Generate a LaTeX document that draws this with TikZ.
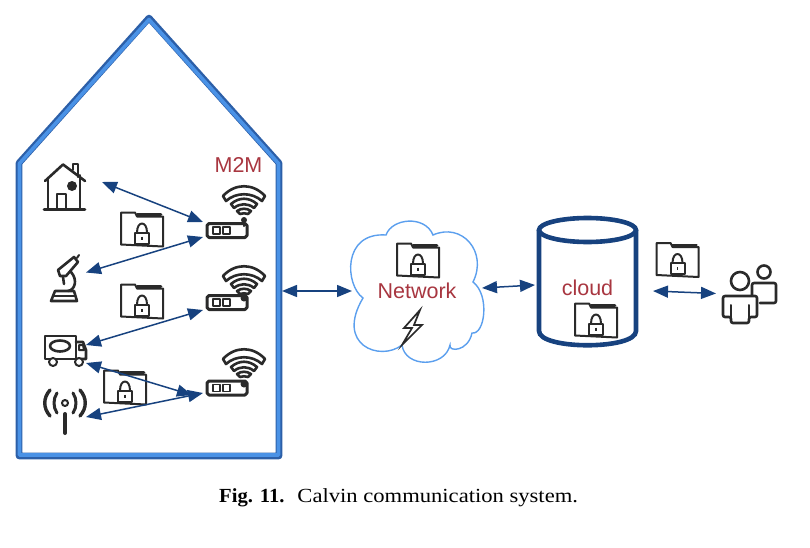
\documentclass[tikz,border=0pt]{standalone}
\usepackage{fontspec}
\setmainfont[FakeStretch=1.13]{Liberation Serif}
\newfontfamily\capbold[FakeStretch=1.03]{Liberation Serif Bold}
\newfontfamily\labelfont{Liberation Sans}
\usetikzlibrary{arrows.meta}
\definecolor{arrowblue}{HTML}{17427F}
\definecolor{wallouter}{HTML}{2C5FA8}
\definecolor{wallinner}{HTML}{4A92E6}
\definecolor{cloudline}{HTML}{5B9FEE}
\definecolor{labelred}{HTML}{A83640}
\definecolor{icon}{HTML}{2A2A2A}
\tikzset{
  x=1pt,y=-1pt,
  iconline/.style={draw=icon,line width=2pt,line join=round,line cap=round},
  thickicon/.style={draw=icon,line width=2.6pt,line join=round,line cap=round},
  link/.style={draw=arrowblue,line width=1.5pt,{Triangle[length=15pt,width=12pt]}-{Triangle[length=15pt,width=12pt]}},
  redlabel/.style={text=labelred,font=\labelfont\fontsize{21.5}{24}\selectfont,inner sep=0pt},
  folder/.pic={
    \draw[iconline] (-21,-13) -- (-21,-17) -- (-7,-17) -- (-5,-13) -- (21,-13) -- (21,17) -- (-21,15) -- cycle;
    \draw[thickicon] (-5,-15) -- (19,-15);
    \draw[iconline,fill=white] (-7,3) rectangle (7,14);
    \draw[iconline] (-5,3) .. controls (-5,-9) and (5,-9) .. (5,3);
    \draw[icon,line width=1.6pt] (0,7) -- (0,10);
  },
  routerbox/.pic={
    \draw[thickicon,line width=3pt] (-18,-7) -- (18,-7) -- (20,-5) -- (20,5) -- (18,7) -- (-18,7) -- (-20,5) -- (-20,-5) -- cycle;
    \draw[iconline,line width=1.9pt] (-14,-3.5) rectangle (-7,3.5) (-4,-3.5) rectangle (3,3.5);
  },
  wifi/.pic={
    \draw[thickicon] (-21,-5) .. controls (-9,-18) and (9,-18) .. (21,-5) -- (18,0) .. controls (8,-9) and (-8,-9) .. (-18,0) -- cycle;
    \draw[thickicon] (-13,3) .. controls (-5,-4) and (5,-4) .. (13,3) -- (10,7) .. controls (4,2) and (-4,2) .. (-10,7) -- cycle;
    \draw[thickicon] (-7,10) .. controls (-3,7) and (3,7) .. (7,10) -- (4,13) .. controls (1,12) and (-1,12) .. (-4,13) -- cycle;
  },
  wavepair/.pic={
    \draw[thickicon,line width=3pt] (-8,-10) .. controls (-12,-4) and (-12,4) .. (-8,10);
    \draw[thickicon,line width=3.4pt] (-15,-13) .. controls (-22,-5) and (-22,5) .. (-15,13);
  }
}
\begin{document}
\begin{tikzpicture}
\useasboundingbox (0,0) rectangle (810,548);

% enclosure
\draw[draw=wallouter,line width=6.6pt,line join=round] (19,456) -- (19,163) -- (149,18) -- (279,163) -- (279,456) -- cycle;
\draw[draw=wallinner,line width=3.6pt,line join=round] (19.5,455) -- (19.5,163.5) -- (149,19.5) -- (278.5,163.5) -- (278.5,455) -- cycle;
\node[redlabel] (m2m) at (238.5,164.5) {M2M};

% house
\draw[thickicon] (45,181) -- (63,164.5) -- (85,181);
\draw[iconline] (48,179) -- (48,208) (80,175) -- (80,208);
\draw[thickicon] (44,209.5) -- (85,209.5);
\draw[iconline] (57,209) -- (57,194) -- (66,194) -- (66,209);
\draw[iconline] (73,170) -- (73,164) -- (78,164) -- (78,177);
\fill[icon] (72,186) circle (5pt);

% microscope
\draw[thickicon] (51,301) -- (55,291) -- (74,291) -- (77,301) -- cycle;
\draw[iconline] (53,296) -- (75,296);
\draw[thickicon,fill=white] (58,270) -- (74,257) -- (78,262) -- (66,276) -- (60,276) -- cycle;
\draw[iconline] (77,258) -- (79,255);
\draw[thickicon] (71,272) .. controls (78,280) and (75,290) .. (68,291);
\draw[thickicon] (63,277) -- (64,284);

% truck
\draw[thickicon] (45,336) -- (76,336) -- (76,359) -- (45,359) -- cycle;
\draw[thickicon] (76,342) -- (83,342) -- (86,350) -- (86,359) -- (76,359);
\draw[thickicon] (60,346) ellipse (10pt and 5.5pt);
\draw[iconline] (79,345) -- (83,345) -- (84,350) -- (79,350) -- cycle;
\draw[iconline,fill=white] (53,362) circle (4pt);
\draw[iconline,fill=white] (79,362) circle (4pt);

% antenna
\draw[thickicon,line width=4pt] (65,414) -- (65,433);
\draw[iconline] (65,403) circle (3pt);
\pic at (65,403) {wavepair};
\pic[xscale=-1] at (65,403) {wavepair};

% routers
\pic at (227,230.5) {routerbox};
\pic at (244,201) {wifi};
\draw[iconline,line width=2.4pt] (244,220) -- (244,226);
\fill[icon] (244,220) circle (3pt);
\pic at (227,302.5) {routerbox};
\pic at (244,281) {wifi};
\fill[icon] (244,298) circle (3.5pt);
\pic at (227,388) {routerbox};
\pic at (244,364) {wifi};
\fill[icon] (244,384) circle (3.5pt);

% folders
\pic at (142,229.5) {folder};
\pic at (142,301.5) {folder};
\pic at (125,387.5) {folder};

% cloud
\draw[draw=cloudline,line width=1.4pt,fill=white]
  (363,298) .. controls (345,285) and (342,232) .. (386,235)
  .. controls (392,218) and (425,215) .. (433,235)
  .. controls (462,222) and (488,252) .. (473,282)
  .. controls (490,295) and (485,335) .. (472,333)
  .. controls (468,352) and (448,352) .. (450,345)
  .. controls (445,368) and (405,368) .. (402,345)
  .. controls (380,362) and (335,345) .. (363,298) -- cycle;
\pic at (418,260.5) {folder};
\node[redlabel] (network) at (417,291) {Network};
\draw[draw=icon,line width=1.7pt,line join=miter,fill=white] (420,310) -- (404,328) -- (412,328) -- (402,345) -- (422,325) -- (414,325) -- cycle;

% cylinder
\draw[draw=arrowblue,line width=4.6pt] (539,230) -- (539,331) .. controls (539,350) and (636,350) .. (636,331) -- (636,230);
\draw[draw=arrowblue,line width=4.6pt] (587.5,230) ellipse (48.5pt and 12pt);
\node[redlabel] (cloud) at (587.5,288) {cloud};
\pic at (596,320.5) {folder};

% user folder and people
\pic at (677.5,260) {folder};
\draw[thickicon] (764,272) circle (6.5pt);
\draw[thickicon,rounded corners=2pt] (752,304) -- (752,283) -- (776,283) -- (776,303) -- (760,303);
\draw[thickicon,fill=white] (740,281) circle (9pt);
\draw[thickicon,fill=white,rounded corners=2pt] (723,317) -- (723,296) -- (757,296) -- (757,317) -- (749,317) -- (749,323) -- (731,323) -- (731,317) -- cycle;
\draw[iconline] (731,305) -- (731,320) (749,305) -- (749,320);

% connector ends
\coordinate (houseE) at (102,182);
\coordinate (routerAw) at (203,222);
\coordinate (scopeE) at (86,272.5);
\coordinate (routerAs) at (203,237);
\coordinate (truckE) at (86,345);
\coordinate (routerBw) at (203,310);
\coordinate (truckS) at (86,363);
\coordinate (routerCn) at (192,395);
\coordinate (antennaE) at (86,417);
\coordinate (routerCw) at (203,393);
\coordinate (wallE) at (282,291);
\coordinate (cloudW) at (352,291);
\coordinate (cloudE) at (482,288);
\coordinate (dbW) at (535,285);
\coordinate (dbE) at (653,291);
\coordinate (usersW) at (716,293.5);

\draw[link] (houseE) -- (routerAw);
\draw[link] (scopeE) -- (routerAs);
\draw[link] (truckE) -- (routerBw);
\draw[link] (truckS) -- (routerCn);
\draw[link] (antennaE) -- (routerCw);
\draw[link] (wallE) -- (cloudW);
\draw[link] (cloudE) -- (dbW);
\draw[link] (dbE) -- (usersW);

% caption
\node[anchor=base west,inner sep=0pt,font=\fontsize{20}{24}\selectfont] (caption) at (219,502) {{\capbold Fig. 11.}\hspace{13pt}Calvin communication system.};
\end{tikzpicture}
\end{document}
